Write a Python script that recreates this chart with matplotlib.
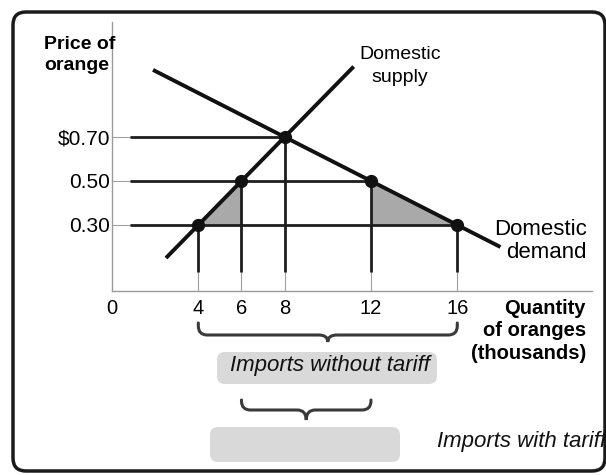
import matplotlib.pyplot as plt
import numpy as np
from matplotlib.patches import FancyBboxPatch, Polygon, PathPatch
from matplotlib.path import Path
from matplotlib.transforms import Affine2D, blended_transform_factory

plt.rcParams['font.family'] = ['Liberation Sans', 'DejaVu Sans']

# quantity (thousands) and price ($)
supply_q = [2.5, 11.2]
supply_p = [0.15, 1.02]
demand_q = [1.9, 18.0]
demand_p = [1.005, 0.20]

# equilibrium / tariff points: (quantity, price)
point_q = [4, 6, 8, 12, 16]
point_p = [0.30, 0.50, 0.70, 0.50, 0.30]

# horizontal price guides run out to these quantities
price_levels = [0.70, 0.50, 0.30]
price_ends = [8, 12, 16]
price_labels = ['$0.70', '0.50', '0.30']

x_ticks = [0, 4, 6, 8, 12, 16]

# deadweight-loss triangles
left_tri = [(4, 0.30), (6, 0.50), (6, 0.30)]
right_tri = [(12, 0.50), (12, 0.30), (16, 0.30)]

W, H = 606, 475
fig = plt.figure(figsize=(W / 100, H / 100), dpi=100)

# pixel coordinates measured from the top-left corner
pix = Affine2D().scale(1 / W, -1 / H).translate(0, 1) + fig.transFigure

ax_left, ax_right, ax_bottom, ax_top = 112, 592, 291, 22
ax = fig.add_axes([ax_left / W, 1 - ax_bottom / H,
                   (ax_right - ax_left) / W, (ax_bottom - ax_top) / H])
ax.set_xlim(0, (ax_right - ax_left) / 21.58)
ax.set_ylim(0, (ax_bottom - ax_top) / 220)
for s in ['top', 'right']:
    ax.spines[s].set_visible(False)
for s in ['left', 'bottom']:
    ax.spines[s].set_color('#9a9a9a')
    ax.spines[s].set_linewidth(1)

ax.set_xticks(x_ticks)
ax.set_xticklabels([str(t) for t in x_ticks], fontsize=14.5)
ax.set_yticks(price_levels)
ax.set_yticklabels(price_labels, fontsize=15)
ax.tick_params(axis='x', length=0, pad=5.5)
ax.tick_params(axis='y', length=0, pad=1.5)

guide = dict(color='#1e1e1e', lw=2.0, solid_capstyle='butt', zorder=2)
thin = dict(color='#a0a0a0', lw=0.8, zorder=1)

# price guides
for p, qe in zip(price_levels, price_ends):
    ax.plot([0, 0.83], [p, p], **thin)
    ax.plot([0.83, qe], [p, p], **guide)

# quantity guides
for q, p in zip(point_q, point_p):
    ax.plot([q, q], [0, 0.086], **thin)
    ax.plot([q, q], [0.086, p], **guide)

ax.add_patch(Polygon(left_tri, closed=True, fc='#a9a9a9', ec='none', zorder=1.5))
ax.add_patch(Polygon(right_tri, closed=True, fc='#a9a9a9', ec='none', zorder=1.5))

ax.plot(supply_q, supply_p, color='#111111', lw=2.8, solid_capstyle='butt', zorder=3)
ax.plot(demand_q, demand_p, color='#111111', lw=2.8, solid_capstyle='butt', zorder=3)
ax.plot(point_q, point_p, 'o', color='#111111', ms=8.5, zorder=4)

# curve and axis captions
fig.text(44, 55, 'Price of\norange', transform=pix, fontsize=14, fontweight='bold',
         ha='left', va='center', linespacing=1.25)
fig.text(400, 66, 'Domestic\nsupply', transform=pix, fontsize=14,
         ha='center', va='center', linespacing=1.5)
fig.text(587, 241, 'Domestic\ndemand', transform=pix, fontsize=16,
         ha='right', va='center', linespacing=1.12)
fig.text(586, 331, 'Quantity\nof oranges\n(thousands)', transform=pix, fontsize=14.5,
         fontweight='bold', ha='right', va='center', linespacing=1.22)

# curly braces under the quantity axis
xpix = blended_transform_factory(ax.transData, pix)


def brace(x0, x1, top, bottom, tip):
    mid = (x0 + x1) / 2
    c, dx = 9, 0.42
    verts = [(x0, top), (x0, bottom - c), (x0, bottom), (x0 + dx, bottom),
             (mid - dx, bottom), (mid, bottom), (mid, tip),
             (mid, bottom), (mid + dx, bottom), (x1 - dx, bottom),
             (x1, bottom), (x1, bottom - c), (x1, top)]
    codes = [Path.MOVETO, Path.LINETO, Path.CURVE3, Path.CURVE3,
             Path.LINETO, Path.CURVE3, Path.CURVE3,
             Path.CURVE3, Path.CURVE3, Path.LINETO,
             Path.CURVE3, Path.CURVE3, Path.LINETO]
    fig.add_artist(PathPatch(Path(verts, codes), transform=xpix, fc='none',
                             ec='#3a3a3a', lw=2.2, capstyle='round'))


brace(4, 16, 323, 335, 342)
brace(6, 12, 400, 410, 420)

# grey label boxes
fig.add_artist(FancyBboxPatch((217, 352), 220, 32, boxstyle='round,pad=0,rounding_size=8',
                              transform=pix, fc='#d9d9d9', ec='none'))
fig.add_artist(FancyBboxPatch((210, 427), 190, 35, boxstyle='round,pad=0,rounding_size=8',
                              transform=pix, fc='#d9d9d9', ec='none'))
fig.text(330, 366, 'Imports without tariff', transform=pix, fontsize=16, style='italic',
         ha='center', va='center', color='#111111')
fig.text(437, 442, 'Imports with tariff', transform=pix, fontsize=16, style='italic',
         ha='left', va='center', color='#111111')

# rounded outer frame
fig.add_artist(FancyBboxPatch((13, 12), 592, 459, boxstyle='round,pad=0,rounding_size=13',
                              transform=pix, fc='none', ec='#1a1a1a', lw=2.5, zorder=0))

fig.savefig('out.png', dpi=100)
